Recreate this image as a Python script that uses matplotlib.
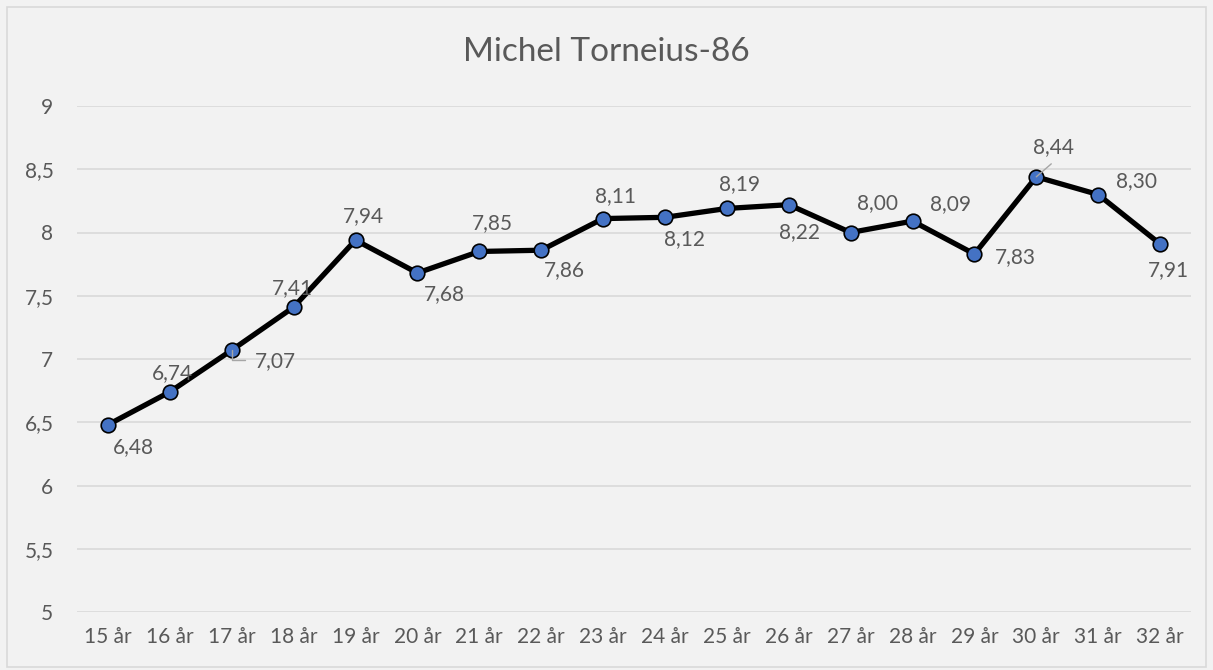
import matplotlib.pyplot as plt
from matplotlib.patches import Rectangle

ages = ["15 år", "16 år", "17 år", "18 år", "19 år", "20 år", "21 år", "22 år", "23 år",
        "24 år", "25 år", "26 år", "27 år", "28 år", "29 år", "30 år", "31 år", "32 år"]
values = [6.48, 6.74, 7.07, 7.41, 7.94, 7.68, 7.85, 7.86, 8.11,
          8.12, 8.19, 8.22, 8.00, 8.09, 7.83, 8.44, 8.30, 7.91]

# label offsets from the point, in pixels (x right, y up)
offsets = [(25, -22), (3, 19), (44, -11), (-1, 19), (8, 24), (27, -21), (13, 28), (23, -20), (12, 22),
           (20, -22), (13, 24), (11, -27), (27, 29), (38, 17), (41, -3), (17, 30), (38, 13), (8, -26)]

txt = "#595959"
grid = "#D9D9D9"
bg = "#F2F2F2"
plt.rcParams["font.family"] = ["Lato", "DejaVu Sans"]

fig = plt.figure(figsize=(12.13, 6.70), dpi=100, facecolor=bg)
fig.patches.append(Rectangle((7 / 1213, 0.004), 1 - 14 / 1213, 1 - 7 / 670 - 0.004,
                             transform=fig.transFigure, fill=False, edgecolor=grid, lw=1.2))
ax = fig.add_axes([77 / 1213, 1 - 612 / 670, 1114 / 1213, 506 / 670])
ax.set_facecolor(bg)

x = list(range(len(ages)))
ax.plot(x, values, color="black", lw=3.8, marker="o", markersize=10.5,
        markerfacecolor="#4472C4", markeredgecolor="black", markeredgewidth=1.2, zorder=3)

for i, v in enumerate(values):
    dx, dy = offsets[i]
    ax.annotate(f"{v:.2f}".replace(".", ","), (i, v), xytext=(dx * 0.72, dy * 0.72),
                textcoords="offset points", ha="center", va="center", fontsize=15, color=txt)

# leader lines for the moved labels
ax.annotate("", (2, values[2]), xytext=(13 * 0.72, -10 * 0.72), textcoords="offset points",
            arrowprops=dict(arrowstyle="-", color="#A6A6A6", lw=1, connectionstyle="angle,angleA=0,angleB=90,rad=0",
                            shrinkA=0, shrinkB=0))
ax.annotate("", (15, values[15]), xytext=(15 * 0.72, 13 * 0.72), textcoords="offset points",
            arrowprops=dict(arrowstyle="-", color="#A6A6A6", lw=1, shrinkA=0, shrinkB=0))

ax.set_xlim(-0.5, len(ages) - 0.5)
ax.set_ylim(5, 9)
ax.set_yticks([5, 5.5, 6, 6.5, 7, 7.5, 8, 8.5, 9])
ax.set_yticklabels(["5", "5,5", "6", "6,5", "7", "7,5", "8", "8,5", "9"])
ax.set_xticks(x)
ax.set_xticklabels(ages)
ax.grid(axis="y", color=grid, lw=1.2)
ax.set_axisbelow(True)
for s in ax.spines.values():
    s.set_visible(False)
ax.tick_params(axis="both", length=0, labelsize=15, colors=txt)
ax.tick_params(axis="y", pad=17)
ax.tick_params(axis="x", pad=11)

fig.text(0.5, 1 - 52 / 670, "Michel Torneius-86", ha="center", va="center", fontsize=24, color=txt)

fig.savefig("out.png", dpi=100, facecolor=bg)
